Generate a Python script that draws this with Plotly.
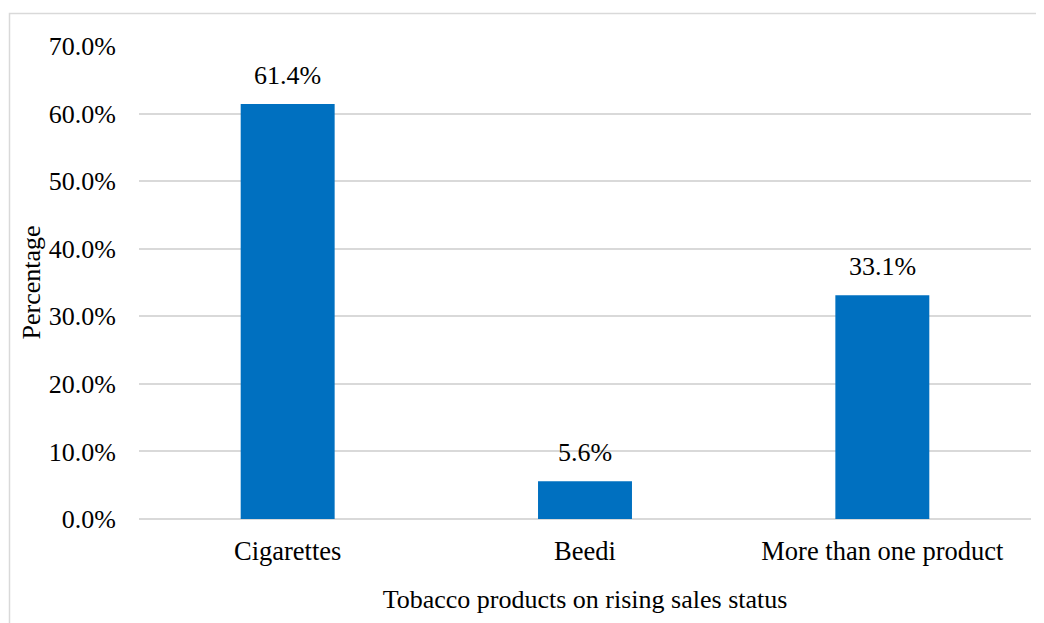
import plotly.graph_objects as go

categories = ["Cigarettes", "Beedi", "More than one product"]
values = [0.614, 0.056, 0.331]
labels = ["61.4%", "5.6%", "33.1%"]
y_ticks = [0, 0.1, 0.2, 0.3, 0.4, 0.5, 0.6, 0.7]

FONT = "Liberation Serif"
# page has an 8px body margin, so the figure is sized to fill the rest of the window
W, H = 1036, 615
L, R, T, B = 131, 13, 38, 104

fig = go.Figure()
fig.add_trace(go.Bar(
    x=categories, y=values,
    marker=dict(color="#0070C0", line=dict(width=0)),
    width=0.316,
    hoverinfo="skip",
))

for c, v, t in zip(categories, values, labels):
    fig.add_annotation(x=c, y=v, text=t, showarrow=False, yanchor="bottom",
                       yshift=12, font=dict(family=FONT, size=26, color="#000000"))

pw, ph = W - L - R, H - T - B
fig.add_shape(type="rect", xref="paper", yref="paper",
              x0=(1.5 - L) / pw, x1=(W + 20 - L) / pw,
              y0=-(H + 20 - T - ph) / ph, y1=(H - B - 5.5) / ph,
              line=dict(color="#d9d9d9", width=1.5), fillcolor="rgba(0,0,0,0)", layer="below")

fig.update_layout(
    width=W, height=H,
    margin=dict(l=L, r=R, t=T, b=B, pad=0),
    paper_bgcolor="white", plot_bgcolor="white",
    showlegend=False,
    font=dict(family=FONT, size=26, color="#000000"),
    xaxis=dict(
        showgrid=False, showline=False, zeroline=False,
        ticks="", ticklabelstandoff=13,
        tickfont=dict(family=FONT, size=26.5, color="#000000"),
        title=dict(text="Tobacco products on rising sales status", standoff=25,
                   font=dict(family=FONT, size=26, color="#000000")),
    ),
    yaxis=dict(
        range=[0, 0.7], tickvals=y_ticks, tickformat=".1%",
        showgrid=True, gridcolor="#d9d9d9", gridwidth=1.5,
        zeroline=True, zerolinecolor="#d9d9d9", zerolinewidth=1.5,
        showline=False, ticks="", ticklabelstandoff=22,
        tickfont=dict(family=FONT, size=26, color="#000000"),
        title=dict(text="Percentage", standoff=0, font=dict(family=FONT, size=26, color="#000000")),
    ),
)

fig.write_html("out.html")
